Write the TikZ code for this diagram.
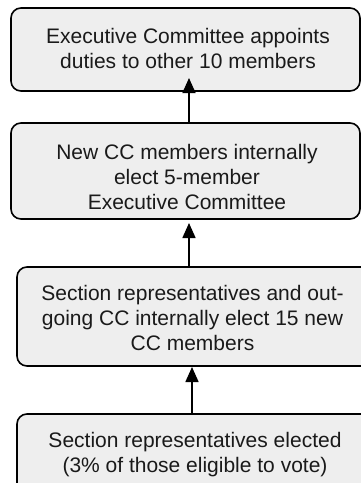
\documentclass[tikz,border=0pt]{standalone}
\usepackage{fontspec}
\setmainfont{Liberation Sans}
\usetikzlibrary{arrows.meta}
\definecolor{boxfill}{HTML}{EEEEEE}
\definecolor{txt}{HTML}{1A1A1A}
\tikzset{
  stagebox/.style={draw=black, line width=1.6pt, fill=boxfill, rounded corners=10pt, inner sep=0pt},
  boxtxt/.style={align=center, text=txt, inner sep=0pt, font=\fontsize{21}{25}\selectfont},
  uparrow/.style={line width=1.6pt, -{Triangle[length=15pt,width=13pt]}}
}
\begin{document}
\begin{tikzpicture}[x=1pt,y=-1pt]
\useasboundingbox (0,0) rectangle (361,483);
\clip (0,0) rectangle (361,483);
% boxes
\node[stagebox, minimum width=349pt, minimum height=83pt] (b1) at (185.5,49.5) {};
\node[stagebox, minimum width=349pt, minimum height=96pt] (b2) at (185.5,171) {};
\node[stagebox, minimum width=356pt, minimum height=99pt] (b3) at (195,316.5) {};
\node[stagebox, minimum width=356pt, minimum height=90pt] (b4) at (195,459) {};
% texts
\node[boxtxt] (t1) at (188,48.5) {Executive Committee appoints\\duties to other 10 members};
\node[boxtxt] (t2) at (187,176.5) {New CC members internally\\elect 5-member\\Executive Committee};
\node[boxtxt] (t3) at (192.5,318) {Section representatives and out-\\going CC internally elect 15 new\\CC members};
\node[boxtxt] (t4) at (195,455) {Section representatives elected\\(3\% of those eligible to vote)};
% arrow tips
\coordinate (tip1) at (189,78);
\coordinate (tip2) at (189,223);
\coordinate (tip3) at (192,367);
\draw[uparrow] (b2.north -| tip1) -- (tip1);
\draw[uparrow] (b3.north -| tip2) -- (tip2);
\draw[uparrow] (b4.north -| tip3) -- (tip3);
\end{tikzpicture}
\end{document}
